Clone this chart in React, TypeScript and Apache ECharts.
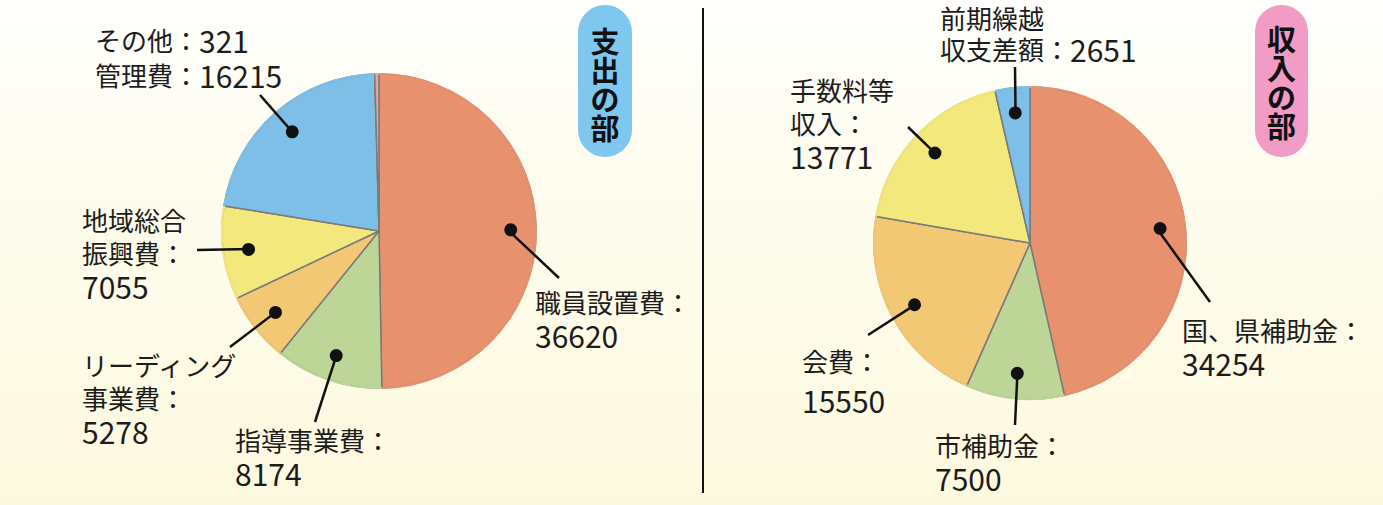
import { useEffect, useRef } from 'react';
import * as echarts from 'echarts';

// ---- data ----
const expenseNames = ['職員設置費', '指導事業費', 'リーディング事業費', '地域総合振興費', '管理費', 'その他'];
const expenseValues = [36620, 8174, 5278, 7055, 16215, 321];
const expenseLabelText = ['職員設置費：\n', '指導事業費：\n', 'リーディング\n事業費：\n', '地域総合\n振興費：\n', '管理費：', 'その他：'];

const incomeNames = ['国、県補助金', '市補助金', '会費', '手数料等収入', '前期繰越収支差額'];
const incomeValues = [34254, 7500, 15550, 13771, 2651];
const incomeLabelText = ['国、県補助金：\n', '市補助金：\n', '会費：\n', '手数料等\n収入：\n', '前期繰越\n収支差額：'];

const expenseTitle = '支出の部';
const incomeTitle = '収入の部';

// ---- styles / layout ----
const expenseColors = ['#e8916f', '#bdd597', '#f2c875', '#f3e87c', '#7dbfe6', '#e3a4a4'];
const incomeColors = ['#e8916f', '#bdd597', '#f2c875', '#f3e87c', '#7dbfe6'];

const C1: [number, number] = [379, 231];
const R1 = 157;
const C2: [number, number] = [1030, 243];
const R2 = 156;
const DOT_FRAC = 0.82;

type Pos = { x: number; y: number; end?: [number, number]; lh?: number };
const expensePos: Pos[] = [
  { x: 535, y: 285, end: [559, 278] },
  { x: 235, y: 423, end: [315, 422] },
  { x: 82, y: 348, end: [230, 347] },
  { x: 82, y: 203, end: [197, 250] },
  { x: 95, y: 58, end: [260, 95] },
  { x: 95, y: 23 },
];
const incomePos: Pos[] = [
  { x: 1182, y: 313, end: [1210, 302] },
  { x: 935, y: 428, end: [1015, 425] },
  { x: 802, y: 340, end: [868, 335], lh: 40 },
  { x: 790, y: 73, end: [908, 127] },
  { x: 940, y: 2, end: [1015, 67], lh: 31 },
];

const FONT = '"Noto Sans CJK JP", "Noto Sans", sans-serif';
const LH = 33;

// position of the dot inside slice i (same geometry as the pie: start at 12 o'clock, clockwise)
function dotPoint(values: number[], i: number, center: [number, number], r: number) {
  const total = values.reduce((a, b) => a + b, 0);
  let cum = 0;
  for (let k = 0; k < i; k++) cum += values[k];
  const t = ((cum + values[i] / 2) / total) * Math.PI * 2;
  const d = r * DOT_FRAC;
  return [center[0] + d * Math.sin(t), center[1] - d * Math.cos(t)];
}

function leaderLines(values: number[], pos: Pos[], center: [number, number], r: number) {
  const out: any[] = [];
  values.forEach((_, i) => {
    const p = pos[i];
    if (!p.end) return;
    const d = dotPoint(values, i, center, r);
    out.push({
      type: 'line',
      z: 10,
      silent: true,
      shape: { x1: d[0], y1: d[1], x2: p.end[0], y2: p.end[1] },
      style: { stroke: '#111', lineWidth: 2.5 },
    });
  });
  return out;
}

function makeLayout(pos: Pos[]) {
  return (params: any) => {
    const p = pos[params.dataIndex];
    return { x: p.x, y: p.y, align: 'left', verticalAlign: 'top' };
  };
}

function mainSeries(names: string[], values: number[], texts: string[], colors: string[], pos: Pos[], center: [number, number], r: number) {
  return {
    type: 'pie',
    center,
    radius: r,
    startAngle: 90,
    clockwise: true,
    avoidLabelOverlap: false,
    silent: true,
    z: 2,
    itemStyle: { borderColor: '#7a7a7a', borderWidth: 1.5 },
    label: {
      show: true,
      position: 'outside',
      overflow: 'none',
      color: '#1c1c1c',
      fontSize: 26,
      lineHeight: LH,
      fontFamily: FONT,
      formatter: (p: any) => texts[p.dataIndex] + '{n|' + String(values[p.dataIndex]) + '}',
      rich: { n: { fontSize: 30, lineHeight: LH, fontFamily: FONT, color: '#1c1c1c' } },
    },
    labelLine: { show: false },
    labelLayout: makeLayout(pos),
    data: names.map((n, i) => ({
      name: n,
      value: values[i],
      itemStyle: { color: colors[i] },
      label: pos[i].lh
        ? { lineHeight: pos[i].lh, rich: { n: { fontSize: 30, lineHeight: pos[i].lh, fontFamily: FONT, color: '#1c1c1c' } } }
        : undefined,
    })),
  };
}

// thin ring in the slice colours that hides the grey border on the outer arc
function rimSeries(names: string[], values: number[], colors: string[], center: [number, number], r: number) {
  return {
    type: 'pie',
    center,
    radius: [r - 1, r + 1],
    startAngle: 90,
    clockwise: true,
    silent: true,
    z: 3,
    itemStyle: { borderWidth: 0 },
    label: { show: false },
    labelLine: { show: false },
    data: names.map((n, i) => ({ name: n, value: values[i], itemStyle: { color: colors[i] } })),
  };
}

function dotSeries(names: string[], values: number[], pos: Pos[], center: [number, number], r: number) {
  const inner = r * (2 * DOT_FRAC - 1);
  return {
    type: 'pie',
    center,
    radius: [inner, r],
    startAngle: 90,
    clockwise: true,
    silent: true,
    z: 5,
    itemStyle: { color: 'rgba(0,0,0,0)', borderWidth: 0 },
    label: {
      show: true,
      position: 'inside',
      formatter: '{d| }',
      rich: { d: { width: 13, height: 13, borderRadius: 6.5, backgroundColor: '#111', fontSize: 1, lineHeight: 13 } },
    },
    labelLine: { show: false },
    data: names.map((n, i) => ({
      name: n,
      value: values[i],
      label: pos[i].end ? undefined : { show: false },
    })),
  };
}

function badge(x: number, w: number, color: string, title: string, cy: number) {
  const chars = title.split('');
  const pitch = 29;
  const top = cy - (pitch * (chars.length - 1)) / 2;
  return [
    { type: 'rect', shape: { x, y: 5, width: w, height: 152, r: w / 2 }, style: { fill: color }, z: 1 },
    ...chars.map((ch, k) => ({
      type: 'text',
      x: x + w / 2,
      y: top + k * pitch,
      z: 2,
      style: {
        text: ch,
        align: 'center',
        verticalAlign: 'middle',
        fontSize: 29,
        fontWeight: 'bold',
        fontFamily: FONT,
        fill: '#111',
      },
    })),
  ];
}

export default function App() {
  const ref = useRef<HTMLDivElement>(null);
  useEffect(() => {
    if (!ref.current) return;
    const chart = echarts.init(ref.current, null, { renderer: 'svg' });
    chart.setOption({
      animation: false,
      backgroundColor: 'transparent',
      graphic: [
        { type: 'line', shape: { x1: 703, y1: 8, x2: 703, y2: 493 }, style: { stroke: '#111', lineWidth: 2 } },
        ...badge(578, 54, '#7ec8ef', expenseTitle, 83),
        ...badge(1255, 53, '#f09cc5', incomeTitle, 81),
        ...leaderLines(expenseValues, expensePos, C1, R1),
        ...leaderLines(incomeValues, incomePos, C2, R2),
      ],
      series: [
        mainSeries(expenseNames, expenseValues, expenseLabelText, expenseColors, expensePos, C1, R1),
        rimSeries(expenseNames, expenseValues, expenseColors, C1, R1),
        dotSeries(expenseNames, expenseValues, expensePos, C1, R1),
        mainSeries(incomeNames, incomeValues, incomeLabelText, incomeColors, incomePos, C2, R2),
        rimSeries(incomeNames, incomeValues, incomeColors, C2, R2),
        dotSeries(incomeNames, incomeValues, incomePos, C2, R2),
      ],
    });
    return () => chart.dispose();
  }, []);
  return (
    <div
      ref={ref}
      style={{
        position: 'fixed',
        left: 0,
        top: 0,
        width: 1383,
        height: 505,
        background: 'linear-gradient(to bottom, #fffffd 0%, #fefcee 35%, #fdf9e0 100%)',
      }}
    />
  );
}
